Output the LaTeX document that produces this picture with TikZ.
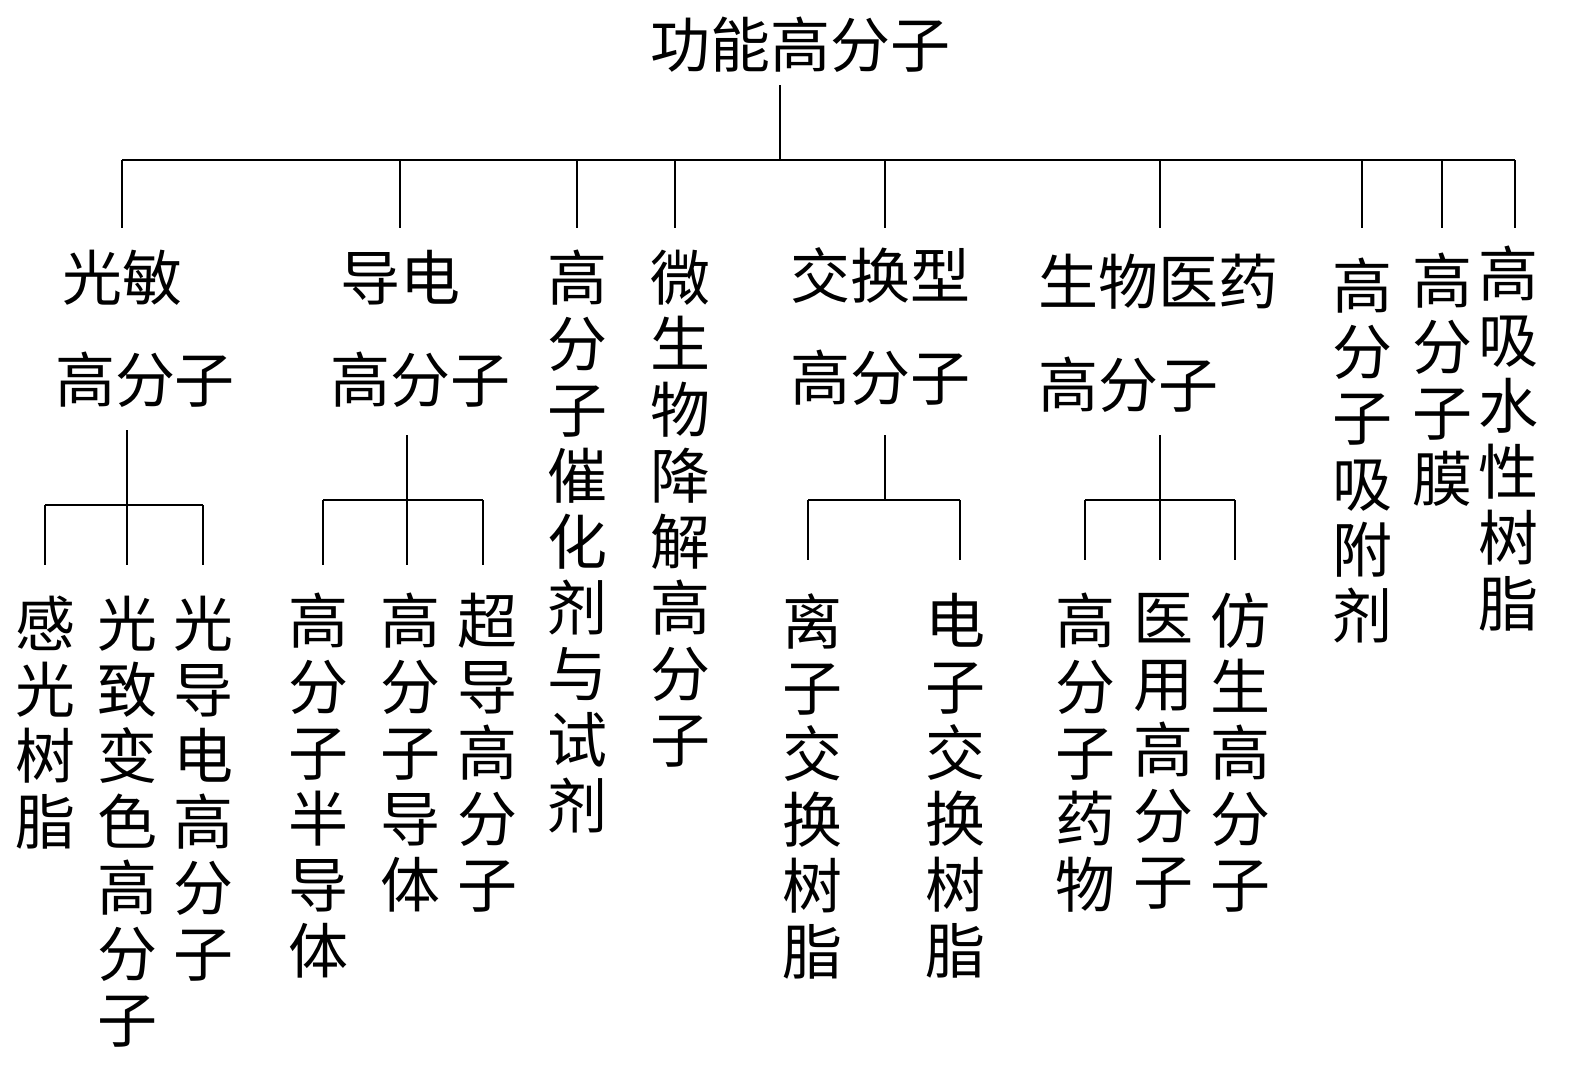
\documentclass[tikz,border=0pt]{standalone}
\usepackage{fontspec}
\setmainfont{Noto Sans CJK SC}
\begin{document}
\begin{tikzpicture}[x=1pt,y=-1pt,
  lab/.style={inner sep=0pt,font=\fontsize{60}{66}\selectfont},
  vlab/.style={inner sep=0pt,anchor=north,align=center,font=\fontsize{60}{66}\selectfont},
  ln/.style={line width=2.5pt}]
\useasboundingbox[fill=white] (0,0) rectangle (1583,1068);
\node[lab] (root) at (800,45) {功能高分子};
% level 2
\node[lab] (a1) at (122,278) {光敏};
\node[lab] (a2) at (145,380) {高分子};
\node[lab] (b1) at (400,278) {导电};
\node[lab] (b2) at (420,380) {高分子};
\node[vlab] (c) at (577,250) {高\\分\\子\\催\\化\\剂\\与\\试\\剂};
\node[vlab] (d) at (680,250) {微\\生\\物\\降\\解\\高\\分\\子};
\node[lab] (e1) at (880,275) {交换型};
\node[lab] (e2) at (880,378) {高分子};
\node[lab] (f1) at (1158,282) {生物医药};
\node[lab] (f2) at (1128,385) {高分子};
\node[vlab] (g) at (1362,258) {高\\分\\子\\吸\\附\\剂};
\node[vlab] (h) at (1442,253) {高\\分\\子\\膜};
\node[vlab] (i) at (1508,246) {高\\吸\\水\\性\\树\\脂};
% level 3
\node[vlab] (a31) at (45,596) {感\\光\\树\\脂};
\node[vlab] (a32) at (127,596) {光\\致\\变\\色\\高\\分\\子};
\node[vlab] (a33) at (203,596) {光\\导\\电\\高\\分\\子};
\node[vlab] (b31) at (318,593) {高\\分\\子\\半\\导\\体};
\node[vlab] (b32) at (410,593) {高\\分\\子\\导\\体};
\node[vlab] (b33) at (487,593) {超\\导\\高\\分\\子};
\node[vlab] (e31) at (812,593) {离\\子\\交\\换\\树\\脂};
\node[vlab] (e32) at (955,593) {电\\子\\交\\换\\树\\脂};
\node[vlab] (f31) at (1085,593) {高\\分\\子\\药\\物};
\node[vlab] (f32) at (1163,593) {医\\用\\高\\分\\子};
\node[vlab] (f33) at (1240,593) {仿\\生\\高\\分\\子};
% connectors
\coordinate (r0) at (780,85);
\coordinate (r1) at (780,160);
\draw[ln] (r0) -- (r1);
\draw[ln] (122,160) -- (1515,160);
\foreach \x in {122,400,577,675,885,1160,1362,1442,1515}
  \draw[ln] (\x,160) -- (\x,228);
% subtrees
\draw[ln] (127,430) -- (127,505) (45,505) -- (203,505);
\foreach \x in {45,127,203} \draw[ln] (\x,505) -- (\x,565);
\draw[ln] (407,435) -- (407,500) (323,500) -- (483,500);
\foreach \x in {323,407,483} \draw[ln] (\x,500) -- (\x,565);
\draw[ln] (885,435) -- (885,500) (808,500) -- (960,500);
\foreach \x in {808,960} \draw[ln] (\x,500) -- (\x,560);
\draw[ln] (1160,435) -- (1160,500) (1085,500) -- (1235,500);
\foreach \x in {1085,1160,1235} \draw[ln] (\x,500) -- (\x,560);
\end{tikzpicture}
\end{document}
